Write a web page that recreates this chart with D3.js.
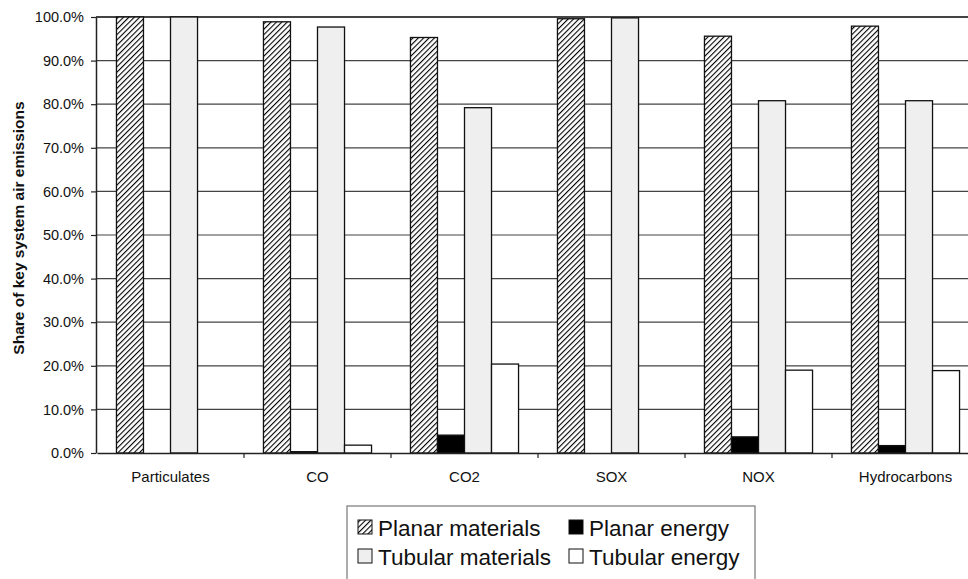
<!DOCTYPE html>
<html>
<head>
<meta charset="utf-8">
<script src="https://cdn.jsdelivr.net/npm/d3@7"></script>
<style>
  body { margin: 0; background: #fff; }
  svg { font-family: Arial, "Liberation Sans", sans-serif; }
</style>
</head>
<body>
<div id="chart"></div>
<script>
const categories = ['Particulates', 'CO', 'CO2', 'SOX', 'NOX', 'Hydrocarbons'];
const seriesNames = ['Planar materials', 'Planar energy', 'Tubular materials', 'Tubular energy'];
const planarMaterials = [100.0, 98.9, 95.3, 99.6, 95.6, 97.9];
const planarEnergy = [0.0, 0.3, 4.1, 0.0, 3.7, 1.7];
const tubularMaterials = [100.0, 97.7, 79.2, 99.8, 80.8, 80.8];
const tubularEnergy = [0.0, 1.8, 20.4, 0.0, 19.0, 18.9];
const yTicks = [0, 10, 20, 30, 40, 50, 60, 70, 80, 90, 100];

const series = [planarMaterials, planarEnergy, tubularMaterials, tubularEnergy];
const fills = ['url(#hatch)', '#000', '#efefef', '#fff'];

const width = 968, height = 579;
// plot runs past the right edge of the picture (cropped in the original)
const margin = {top: 17, bottom: 126, left: 96};
const plotRight = 979;

const svg = d3.select('#chart').append('svg')
    .attr('width', width)
    .attr('height', height);

// diagonal hatch
const defs = svg.append('defs');
const pat = defs.append('pattern')
    .attr('id', 'hatch')
    .attr('patternUnits', 'userSpaceOnUse')
    .attr('width', 3.8).attr('height', 3.8)
    .attr('patternTransform', 'rotate(45)');
pat.append('rect').attr('width', 3.8).attr('height', 3.8).attr('fill', '#fff');
pat.append('line')
    .attr('x1', 0).attr('y1', 0).attr('x2', 0).attr('y2', 3.8)
    .attr('stroke', '#000').attr('stroke-width', 2.2);

const x0 = d3.scaleBand()
    .domain(categories)
    .range([margin.left + 1, plotRight]);

const x1 = d3.scaleBand()
    .domain(d3.range(4))
    .range([0, x0.bandwidth()])
    .paddingOuter(0.72)
    .paddingInner(0);

const y = d3.scaleLinear()
    .domain([0, 100])
    .range([height - margin.bottom, margin.top]);

// gridlines
svg.append('g')
    .selectAll('line')
    .data(yTicks.slice(1))
    .join('line')
    .attr('x1', margin.left).attr('x2', width)
    .attr('y1', d => y(d)).attr('y2', d => y(d))
    .attr('stroke', '#444')
    .attr('stroke-width', d => d === 100 ? 2 : 1.2);

// bars
const groups = svg.append('g')
    .selectAll('g')
    .data(categories)
    .join('g')
    .attr('transform', d => `translate(${x0(d)},0)`);

groups.selectAll('rect')
    .data((d, i) => series.map((s, k) => ({k: k, v: s[i]})))
    .join('rect')
    .filter(d => d.v > 0)
    .attr('x', d => x1(d.k))
    .attr('width', x1.bandwidth())
    .attr('y', d => y(d.v))
    .attr('height', d => y(0) - y(d.v))
    .attr('fill', d => fills[d.k])
    .attr('stroke', '#111')
    .attr('stroke-width', 1.3);

// y axis
const yAxis = svg.append('g')
    .attr('transform', `translate(${margin.left},0)`)
    .call(d3.axisLeft(y).tickValues(yTicks).tickFormat(d => d.toFixed(1) + '%').tickSize(5).tickSizeOuter(0));
yAxis.select('.domain').attr('stroke', '#222').attr('stroke-width', 1.5);
yAxis.selectAll('.tick line').attr('stroke', '#222').attr('stroke-width', 1.2);
yAxis.selectAll('text')
    .attr('font-size', 14.5)
    .attr('fill', '#111')
    .attr('x', -12);

// x axis
const xAxis = svg.append('g')
    .attr('transform', `translate(0,${y(0)})`)
    .call(d3.axisBottom(x0).tickSize(0).tickSizeOuter(0));
xAxis.select('.domain').attr('stroke', '#222').attr('stroke-width', 1.5);
xAxis.selectAll('text')
    .attr('font-size', 15)
    .attr('fill', '#111')
    .attr('dy', 0)
    .attr('y', 29);
// category separator ticks
svg.append('g')
    .selectAll('line')
    .data(categories.slice(1))
    .join('line')
    .attr('x1', d => x0(d)).attr('x2', d => x0(d))
    .attr('y1', y(0)).attr('y2', y(0) + 5)
    .attr('stroke', '#222').attr('stroke-width', 1.2);

// y label
svg.append('text')
    .attr('transform', `translate(24,${(y(0) + y(100)) / 2 - 7}) rotate(-90)`)
    .attr('text-anchor', 'middle')
    .attr('font-size', 15.5)
    .attr('font-weight', 'bold')
    .attr('fill', '#111')
    .text('Share of key system air emissions');

// legend
const legend = svg.append('g').attr('transform', 'translate(347,506)');
legend.append('rect')
    .attr('x', 0).attr('y', 0)
    .attr('width', 408).attr('height', 90)
    .attr('fill', '#fff')
    .attr('stroke', '#777').attr('stroke-width', 1.2);

const legendPos = [[11, 21], [222, 21], [11, 50], [222, 50]];
const legendItem = legend.selectAll('g.item')
    .data(seriesNames)
    .join('g')
    .attr('class', 'item')
    .attr('transform', (d, i) => `translate(${legendPos[i][0]},${legendPos[i][1]})`);
legendItem.append('rect')
    .attr('x', 0).attr('y', -7)
    .attr('width', 14).attr('height', 14)
    .attr('fill', (d, i) => fills[i])
    .attr('stroke', '#111').attr('stroke-width', 1);
legendItem.append('text')
    .attr('x', 20).attr('y', 1)
    .attr('dy', '0.35em')
    .attr('font-size', 22.5)
    .attr('fill', '#111')
    .text(d => d);
</script>
</body>
</html>
